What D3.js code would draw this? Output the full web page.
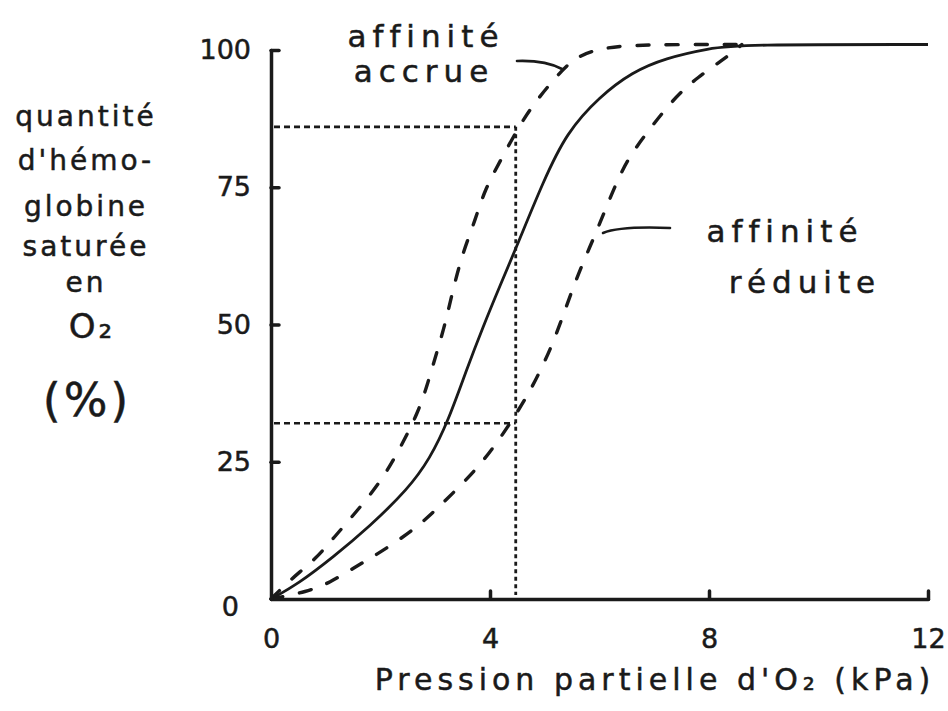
<!DOCTYPE html>
<style>
body {
	margin: 0;
	background: #fff;
}
.axis path, .axis line {
	stroke: #1a1a1a;
	stroke-width: 3.5;
	stroke-linecap: round;
}
.axis text {
	font-family: 'DejaVu Sans', sans-serif;
	font-size: 27px;
	fill: #1a1a1a;
	stroke: #1a1a1a;
	stroke-width: 0.5;
}
text {
	stroke: #1a1a1a;
	stroke-width: 0.5;
}
</style>
<svg width="948" height="711" font-family="DejaVu Sans, sans-serif" fill="#1a1a1a"></svg>
<script src="https://d3js.org/d3.v7.min.js"></script>
<script>

// courbe normale (trait plein)
const normale = [
	[0, 0], [0.5, 2.8], [1.13, 7.6], [1.8, 13.2], [2.5, 20], [2.9, 25.5], [3.24, 32.5],
	[3.58, 42], [3.87, 49.5], [4.18, 57], [4.5, 64.5], [4.97, 76], [5.4, 85], [6.0, 91.5],
	[6.6, 96], [7.2, 98.5], [8.0, 100.3], [8.6, 101], [12, 101]
];

// affinité accrue (tirets, à gauche)
const accrue = [
	[0, 0], [0.35, 3.5], [0.84, 7.5], [1.13, 11], [1.57, 16], [2.03, 21.7], [2.36, 27.5],
	[2.69, 34], [2.87, 39.5], [3.03, 45], [3.18, 50], [3.33, 56.6], [3.5, 63], [3.73, 69],
	[3.9, 74.5], [4.2, 80], [4.55, 86.5], [4.86, 91], [5.28, 96], [5.6, 99], [6.1, 100.5],
	[6.8, 101], [8.6, 101]
];

// affinité réduite (tirets, à droite)
const reduite = [
	[0, 0], [0.66, 1.3], [1.08, 3], [1.5, 5.6], [2.0, 8.5], [2.67, 13], [3.14, 17.5],
	[3.7, 23], [4.13, 28.4], [4.55, 34.8], [4.82, 39.5], [5.13, 46], [5.37, 52.6],
	[5.6, 59], [5.95, 67], [6.23, 74], [6.5, 80], [6.87, 85], [7.34, 91], [7.78, 95],
	[8.33, 98.7], [8.6, 101]
];

const xTicks = [0, 4, 8, 12];
const yTicks = [0, 25, 50, 75, 100];

// lignes de repère pointillées
const refX = 4.47;
const refY = [86, 32];

const yTitle = ['quantité', 'd\'hémo-', 'globine', 'saturée', 'en'];

const svg = d3.select('svg');

const x = d3.scaleLinear().domain([0, 12]).range([271, 928]);
const y = d3.scaleLinear().domain([0, 100]).range([599, 50]);

const line = d3.line()
	.x((d) => x(d[0]))
	.y((d) => y(d[1]))
	.curve(d3.curveBasis);

// repères
refY.forEach((v) => {
	svg.append('line')
		.attr('x1', x(0) + 3).attr('x2', x(refX))
		.attr('y1', y(v)).attr('y2', y(v))
		.attr('stroke', '#1a1a1a')
		.attr('stroke-width', 2.6)
		.attr('stroke-dasharray', '6 4');
});
svg.append('line')
	.attr('x1', x(refX)).attr('x2', x(refX))
	.attr('y1', y(refY[0])).attr('y2', y(0) - 4)
	.attr('stroke', '#1a1a1a')
	.attr('stroke-width', 2.8)
	.attr('stroke-dasharray', '4 3.5');

// courbes
svg.append('path')
	.datum(normale)
	.attr('d', line)
	.attr('fill', 'none')
	.attr('stroke', '#1a1a1a')
	.attr('stroke-width', 2.8);

[accrue, reduite].forEach((data) => {
	svg.append('path')
		.datum(data)
		.attr('d', line)
		.attr('fill', 'none')
		.attr('stroke', '#1a1a1a')
		.attr('stroke-width', 3.4)
		.attr('stroke-linecap', 'round')
		.attr('stroke-dasharray', '12 17');
});

// axes
const xAxis = svg.append('g')
	.attr('class', 'axis')
	.attr('transform', `translate(0,${y(0)})`)
	.call(d3.axisBottom(x).tickValues(xTicks).tickSizeInner(-8).tickSizeOuter(0).tickPadding(22));
xAxis.selectAll('.tick line').filter((d) => d === 0).remove();
xAxis.selectAll('.tick text').attr('dy', '1em');

const yAxis = svg.append('g')
	.attr('class', 'axis')
	.attr('transform', `translate(${x(0)},0)`)
	.call(d3.axisLeft(y).tickValues(yTicks).tickSizeInner(-8).tickSizeOuter(0).tickPadding(20));
yAxis.selectAll('.tick line').filter((d) => d === 0).remove();
yAxis.selectAll('.tick text').filter((d) => d === 0).attr('x', -32).attr('dy', '0.6em');

// titres des axes
svg.append('text')
	.attr('x', 655)
	.attr('y', 690)
	.attr('text-anchor', 'middle')
	.attr('font-size', 30)
	.attr('letter-spacing', 5)
	.text('Pression partielle d\'O₂ (kPa)');

const yt = svg.append('g')
	.attr('text-anchor', 'middle')
	.attr('font-size', 28)
	.attr('letter-spacing', 3);
const yBaselines = [126, 170, 216, 256, 292];
yTitle.forEach((t, i) => {
	yt.append('text').attr('x', 86).attr('y', yBaselines[i]).text(t);
});
yt.append('text').attr('x', 92).attr('y', 338).attr('font-size', 34).text('O₂');
yt.append('text').attr('x', 87).attr('y', 416).attr('font-size', 46).text('(%)');

// étiquettes
const lab = svg.append('g')
	.attr('text-anchor', 'middle')
	.attr('font-size', 31)
	.attr('letter-spacing', 6);
lab.append('text').attr('x', 426).attr('y', 47).text('affinité');
lab.append('text').attr('x', 424).attr('y', 82).text('accrue');
lab.append('text').attr('x', 785).attr('y', 242).text('affinité');
lab.append('text').attr('x', 805).attr('y', 293).text('réduite');

svg.append('path')
	.attr('d', `M517,61 Q545,60 562,69`)
	.attr('fill', 'none')
	.attr('stroke', '#1a1a1a')
	.attr('stroke-width', 2.6)
	.attr('stroke-linecap', 'round');
svg.append('path')
	.attr('d', `M603,233 Q620,226 670,228`)
	.attr('fill', 'none')
	.attr('stroke', '#1a1a1a')
	.attr('stroke-width', 2.6)
	.attr('stroke-linecap', 'round');

</script>
